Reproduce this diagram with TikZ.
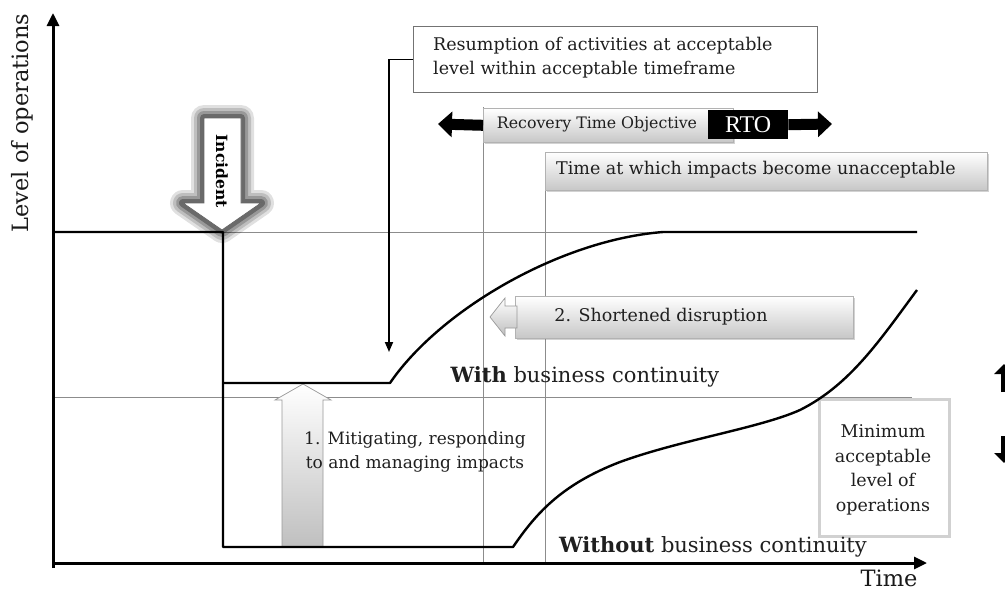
\documentclass[tikz,border=0pt]{standalone}
\usepackage{fontspec}
\setmainfont{DejaVu Serif}
\newfontfamily\rtofont{Liberation Serif}
\usetikzlibrary{arrows.meta,shadows}
\begin{document}
\begin{tikzpicture}[x=1pt,y=-1pt,
  axisline/.style={line width=3pt,-{Triangle[length=13pt,width=12pt]}},
  levelline/.style={line width=2.4pt,line join=round},
  guide/.style={draw=black!45,line width=0.9pt},
  pointer/.style={line width=1.8pt,-{Triangle[length=10pt,width=8pt]}},
  shadebox/.style={top color=white,bottom color=black!22,draw=black!30,line width=0.6pt,
    drop shadow={shadow xshift=1.5pt,shadow yshift=-2pt,opacity=0.35},
    inner sep=0pt,anchor=north west},
  plainbox/.style={draw=black!55,fill=white,line width=1pt,inner sep=0pt},
  txt/.style={font=\fontsize{17.5}{24}\selectfont,text=black!88,inner sep=0pt},
  bigtxt/.style={font=\fontsize{22.5}{24}\selectfont,text=black!90,inner sep=0pt},
  fatarrow/.style={line width=11pt,-{Triangle[length=14pt,width=25pt]}},
  hollowarrow/.style={top color=white,bottom color=black!25,draw=black!40,line width=0.7pt},
]
\useasboundingbox (0,0) rectangle (1005,592);
\fill[white] (0,0) rectangle (1005,592);

% guide lines: normal level, minimum level, RTO and impact instants
\draw[guide] (55,232) -- (917,232);
\draw[guide] (55,397) -- (912,397);
\draw[guide] (483,107) -- (483,563);
\draw[guide] (545,152) -- (545,563);

% top annotation box and its pointer
\node[plainbox,minimum width=404pt,minimum height=66pt,anchor=north west] (resume) at (413,26) {};
\node[txt,align=left,anchor=west] (resumetext) at (433,58)
  {Resumption of activities at acceptable\\level within acceptable timeframe};
\coordinate (landing) at (389,352);
\draw[pointer] (resume.west) -| (landing);

% recovery time objective band
\node[shadebox,minimum width=250pt,minimum height=34pt] (rtoband) at (483,108) {};
\node[txt,font=\fontsize{15.8}{18}\selectfont] (rtotext) at (597,124) {Recovery Time Objective};
\node[fill=black,text=white,inner sep=0pt,minimum width=80pt,minimum height=29pt,
  anchor=north west,font=\rtofont\fontsize{24}{24}\selectfont] (rto) at (708,110) {RTO};
\coordinate (rtoleft) at (438,124);
\coordinate (rtoright) at (832,124);
\draw[fatarrow] (rtoband.west) -- (rtoleft);
\draw[fatarrow] (rto.east) -- (rtoright);

% time at which impacts become unacceptable
\node[shadebox,minimum width=442pt,minimum height=38pt] (impact) at (545,152) {};
\node[txt] (impacttext) at (756,170) {Time at which impacts become unacceptable};

% shortened disruption callout
\node[shadebox,minimum width=338pt,minimum height=42pt] (shorten) at (515,296) {};
\path[hollowarrow] (517,306) -- (505,306) -- (505,298) -- (490,317) -- (505,336) -- (505,328) -- (517,328) -- cycle;
\node[txt] (shortentext) at (661,317) {2. Shortened disruption};

% mitigating arrow
\path[hollowarrow] (303,384) -- (331,400) -- (323,400) -- (323,547) -- (282,547) -- (282,400) -- (275,400) -- cycle;
\node[txt,align=center,font=\fontsize{17}{24}\selectfont] (mitigate) at (415,452) {1. Mitigating, responding\\to and managing impacts};

% minimum acceptable level box
\node[draw=black!18,line width=2.5pt,fill=white,minimum width=130pt,minimum height=137pt,
  anchor=north west] (minbox) at (818,398) {};
\node[txt,align=center,font=\fontsize{17.5}{24.5}\selectfont] (mintext) at (883,470)
  {Minimum\\acceptable\\level of\\operations};

% level of operations with and without business continuity
\draw[levelline] (55,232) -- (223,232) -- (223,547) -- (513,547)
  .. controls (535,515) and (560,485) .. (620,462)
  .. controls (680,440) and (760,428) .. (800,410)
  .. controls (850,385) and (880,340) .. (917,290);
\draw[levelline] (223,383) -- (390,383) .. controls (440,310) and (560,240) .. (663,232) -- (917,232);

\node[txt,font=\fontsize{21}{24}\selectfont] (withbc) at (585,377) {\textbf{With} business continuity};
\node[txt,font=\fontsize{21}{24}\selectfont] (withoutbc) at (713,547) {\textbf{Without} business continuity};

% incident arrow with a soft glow
\foreach \w/\o in {26/0.12,20/0.15,14/0.2,8/0.3}
  \draw[black,line width=\w pt,line join=round,opacity=\o]
    (204,118) -- (241,118) -- (241,203) -- (261,203) -- (222,230) -- (183,203) -- (204,203) -- cycle;
\path[fill=white,draw=black!60,line width=0.8pt]
  (204,118) -- (241,118) -- (241,203) -- (261,203) -- (222,230) -- (183,203) -- (204,203) -- cycle;
\node[rotate=-90,inner sep=0pt,font=\bfseries\fontsize{15.5}{15.5}\selectfont] (incident) at (222,171) {Incident};

% axes
\coordinate (origin) at (53,563);
\coordinate (ytop) at (53,13);
\coordinate (xend) at (927,563);
\draw[axisline] (53,568) -- (ytop);
\draw[axisline] (origin) -- (xend);
\node[bigtxt,rotate=90] (ylabel) at (22,123) {Level of operations};
\node[bigtxt,font=\fontsize{22.5}{24}\selectfont] (xlabel) at (889,578) {Time};

% arrows at the right edge
\coordinate (upfoot) at (1004,392);
\coordinate (uphead) at (1004,364);
\coordinate (downtop) at (1004,436);
\coordinate (downhead) at (1004,463);
\draw[line width=6pt,-{Triangle[length=10pt,width=19pt]}] (upfoot) -- (uphead);
\draw[line width=6pt,-{Triangle[length=10pt,width=19pt]}] (downtop) -- (downhead);
\end{tikzpicture}
\end{document}
